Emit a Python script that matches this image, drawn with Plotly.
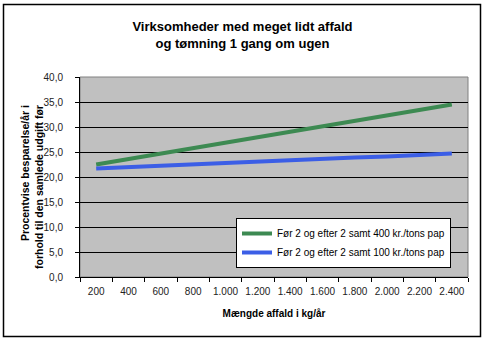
import plotly.graph_objects as go

categories = ["200", "400", "600", "800", "1.000", "1.200", "1.400", "1.600",
              "1.800", "2.000", "2.200", "2.400"]
green_400 = [22.5, 23.6, 24.7, 25.8, 26.9, 28.0, 29.1, 30.2, 31.3, 32.4, 33.5, 34.5]
blue_100 = [21.7, 22.0, 22.2, 22.5, 22.8, 23.0, 23.3, 23.6, 23.9, 24.1, 24.4, 24.7]
name_green = "Før 2 og efter 2 samt 400 kr./tons pap"
name_blue = "Før 2 og efter 2 samt 100 kr./tons pap"
y_ticks = [0, 5, 10, 15, 20, 25, 30, 35, 40]

FONT = "Arial, Liberation Sans, sans-serif"

fig = go.Figure()
fig.add_trace(go.Scatter(x=categories, y=green_400, mode="lines", name=name_green,
                         line=dict(color="#3d8a52", width=4)))
fig.add_trace(go.Scatter(x=categories, y=blue_100, mode="lines", name=name_blue,
                         line=dict(color="#3b5ee6", width=4)))

W, H = 485, 340
L, R, T, B = 80, 17, 77, 63
pw, ph = W - L - R, H - T - B

def px_x(p):
    return (p - L) / pw

def px_y(p):
    return (H - B - p) / ph

fig.update_layout(
    width=W, height=H,
    margin=dict(l=L, r=R, t=T, b=B),
    paper_bgcolor="white",
    plot_bgcolor="#c0c0c0",
    separators=",.",
    font=dict(family=FONT, size=10, color="black"),
    title=dict(text="Virksomheder med meget lidt affald<br>og tømning 1 gang om ugen",
               x=0.5, xref="container", xanchor="center",
               y=1 - 31 / H, yref="container", yanchor="top",
               font=dict(family=FONT, size=13, color="black", weight="bold")),
    showlegend=True,
    legend=dict(x=px_x(236), y=px_y(218), xanchor="left", yanchor="top",
                bgcolor="white", bordercolor="black", borderwidth=1,
                font=dict(family=FONT, size=10, color="black"),
                itemwidth=30, tracegroupgap=0),
    xaxis=dict(type="category", range=[-0.5, 11.5], tickson="boundaries",
               ticks="outside", ticklen=4, tickcolor="black", tickangle=0,
               ticklabelstandoff=5,
               showline=True, linecolor="black", linewidth=1,
               showgrid=False, zeroline=False,
               tickfont=dict(family=FONT, size=10, color="#222"),
               title=dict(text="<b>Mængde affald i kg/år</b>", standoff=13,
                          font=dict(family=FONT, size=10, color="black"))),
    yaxis=dict(range=[0, 40], tickvals=y_ticks, tickformat=".1f",
               ticks="outside", ticklen=4, tickcolor="black", ticklabelstandoff=10,
               showline=True, linecolor="black", linewidth=1,
               showgrid=True, gridcolor="black", gridwidth=1, zeroline=False,
               tickfont=dict(family=FONT, size=10, color="#222")),
    shapes=[
        dict(type="rect", xref="paper", yref="paper", x0=0, x1=1, y0=0, y1=1,
             line=dict(color="#808080", width=1), layer="below"),
        dict(type="rect", xref="paper", yref="paper",
             x0=px_x(3.5), x1=px_x(480.5), y0=px_y(336.5), y1=px_y(4.5),
             line=dict(color="black", width=1.5)),
    ],
    annotations=[
        dict(text="<b>Procentvise besparelse/år i<br>forhold til den samlede udgift før</b>",
             xref="paper", yref="paper", x=px_x(32), y=px_y(187),
             xanchor="center", yanchor="middle", textangle=-90, align="right",
             showarrow=False, font=dict(family=FONT, size=10.5, color="black")),
    ],
)

fig.write_html("out.html")
